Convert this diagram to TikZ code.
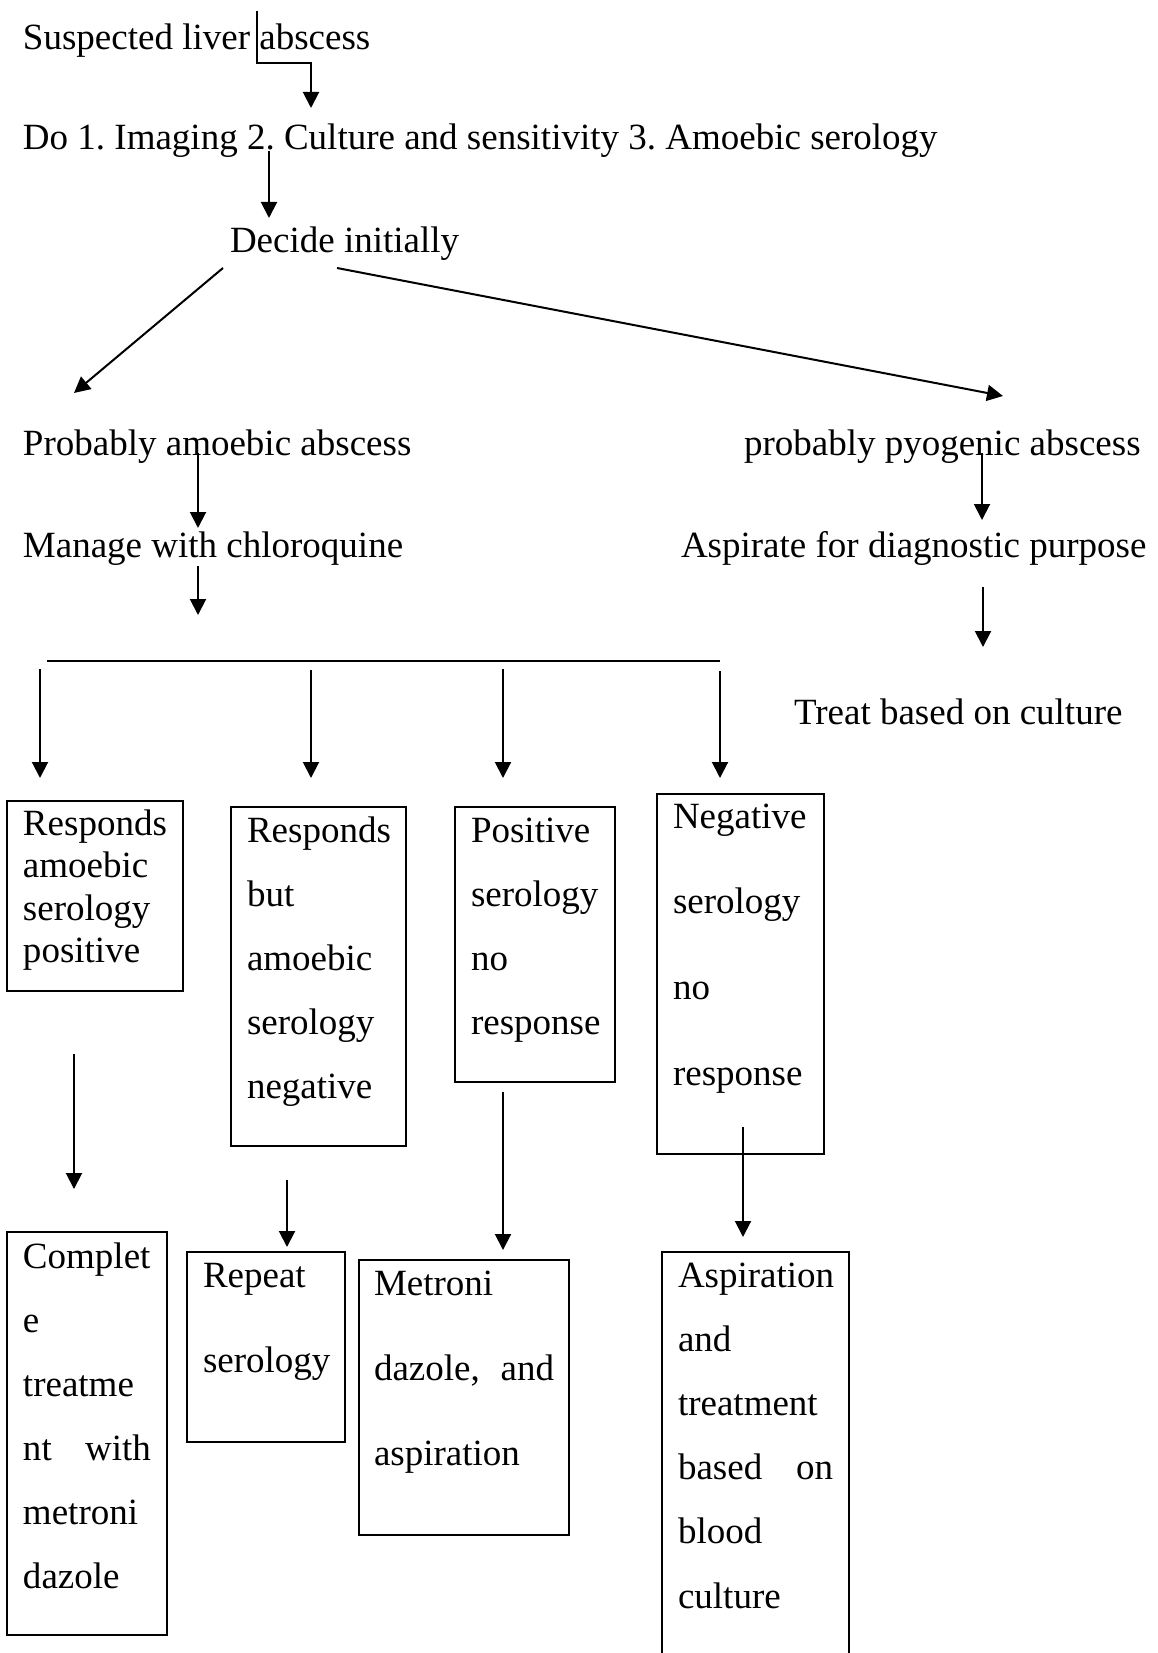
\documentclass[tikz,border=0pt]{standalone}
\usepackage{fontspec}
\setmainfont{Liberation Serif}
\usetikzlibrary{arrows.meta}
\frenchspacing
\newcommand{\mkboxlines}[5]{\parbox[c][#1][t]{#2}{\raggedright\setlength{\baselineskip}{#3}\setlength{\lineskiplimit}{-100pt}\setlength{\parskip}{0pt}\rule{0pt}{#4}#5\par}}
\begin{document}
\begin{tikzpicture}[x=0.5pt,y=-0.5pt,
  arr/.style={-{Triangle[length=8pt,width=8pt]}, line width=1pt},
  thinline/.style={line width=0.75pt},
  lbl/.style={anchor=base west, inner sep=0pt, outer sep=0pt, font=\fontsize{18.5pt}{21.3pt}\selectfont},
  flowbox/.style={draw, line width=1pt, anchor=north west, inner ysep=0pt, inner xsep=8pt, outer sep=0pt, font=\fontsize{18.5pt}{21.3pt}\selectfont}]
\path[use as bounding box, fill=white] (0,0) rectangle (1157,1653);

% free text
\node[lbl] (susp) at (23,50) {Suspected liver abscess};
\node[lbl] (do) at (23,150) {Do 1. Imaging 2. Culture and sensitivity 3. Amoebic serology};
\node[lbl] (decide) at (230,252) {Decide initially};
\node[lbl] (amoeb) at (23,455) {Probably amoebic abscess};
\node[lbl] (pyo) at (744,455) {probably pyogenic abscess};
\node[lbl] (manage) at (23,557) {Manage with chloroquine};
\node[lbl] (aspd) at (681,557) {Aspirate for diagnostic purpose};
\node[lbl] (treat) at (794,724) {Treat based on culture};

% boxes
\node[flowbox] (b1) at (7,801) {\mkboxlines{95pt}{72pt}{21.25pt}{17pt}{Responds\\amoebic\\serology\\positive}};
\node[flowbox] (b2) at (231,807) {\mkboxlines{169.5pt}{71.5pt}{32pt}{17.5pt}{Responds\\but\\amoebic\\serology\\negative}};
\node[flowbox] (b3) at (455,807) {\mkboxlines{137.5pt}{64pt}{32pt}{17.5pt}{Positive\\serology\\no\\response}};
\node[flowbox] (b4) at (657,794) {\mkboxlines{180pt}{67.5pt}{42.85pt}{17pt}{Negative\\serology\\no\\response}};
\node[flowbox] (b5) at (7,1232) {\mkboxlines{201.5pt}{64pt}{32pt}{18pt}{Complet\\e\\treatme\\\makebox[\linewidth]{nt\hfill with}\\metroni\\dazole}};
\node[flowbox] (b6) at (187,1252) {\mkboxlines{95pt}{63pt}{42.5pt}{17.5pt}{Repeat\\serology}};
\node[flowbox, inner xsep=7.5pt] (b7) at (359,1260) {\mkboxlines{137.5pt}{90pt}{42.5pt}{17.5pt}{Metroni\\\makebox[\linewidth]{dazole,\hfill and}\\aspiration}};
\node[flowbox] (b8) at (662,1252) {\mkboxlines{224pt}{77.5pt}{32.1pt}{17.5pt}{Aspiration\\and\\treatment\\\makebox[\linewidth]{based\hfill on}\\blood\\culture}};

% connector end points
\coordinate (t1) at (257,11);
\coordinate (t2) at (257,63);
\coordinate (t3) at (311,63);
\coordinate (t4) at (311,108);
\coordinate (d1) at (269,151);
\coordinate (d2) at (269,218);
\coordinate (l1) at (223,268);
\coordinate (l2) at (74,393);
\coordinate (r1) at (337,268);
\coordinate (r2) at (1003,396);
\coordinate (a1) at (198,453);
\coordinate (a2) at (198,528);
\coordinate (a3) at (198,566);
\coordinate (a4) at (198,615);
\coordinate (p1) at (982,453);
\coordinate (p2) at (982,520);
\coordinate (p3) at (983,587);
\coordinate (p4) at (983,647);
\coordinate (h1) at (47,661);
\coordinate (h2) at (720,661);
\coordinate (k1s) at (40,669);
\coordinate (k1e) at (40,778);
\coordinate (k2s) at (311,670);
\coordinate (k2e) at (311,778);
\coordinate (k3s) at (503,669);
\coordinate (k3e) at (503,778);
\coordinate (k4s) at (720,671);
\coordinate (k4e) at (720,778);
\coordinate (e1s) at (74,1054);
\coordinate (e1e) at (74,1189);
\coordinate (e2s) at (287,1180);
\coordinate (e2e) at (287,1247);
\coordinate (e3s) at (503,1092);
\coordinate (e3e) at (503,1250);
\coordinate (e4s) at (743,1127);
\coordinate (e4e) at (743,1237);

% connectors
\draw[arr] (t1) -- (t2) -- (t3) -- (t4);
\draw[arr] (d1) -- (d2);
\draw[arr] (l1) -- (l2);
\draw[arr] (r1) -- (r2);
\draw[arr] (a1) -- (a2);
\draw[arr] (a3) -- (a4);
\draw[arr] (p1) -- (p2);
\draw[arr] (p3) -- (p4);
\draw[thinline] (h1) -- (h2);
\draw[arr] (k1s) -- (k1e);
\draw[arr] (k2s) -- (k2e);
\draw[arr] (k3s) -- (k3e);
\draw[arr] (k4s) -- (k4e);
\draw[arr] (e1s) -- (e1e);
\draw[arr] (e2s) -- (e2e);
\draw[arr] (e3s) -- (e3e);
\draw[arr] (e4s) -- (e4e);
\end{tikzpicture}
\end{document}
